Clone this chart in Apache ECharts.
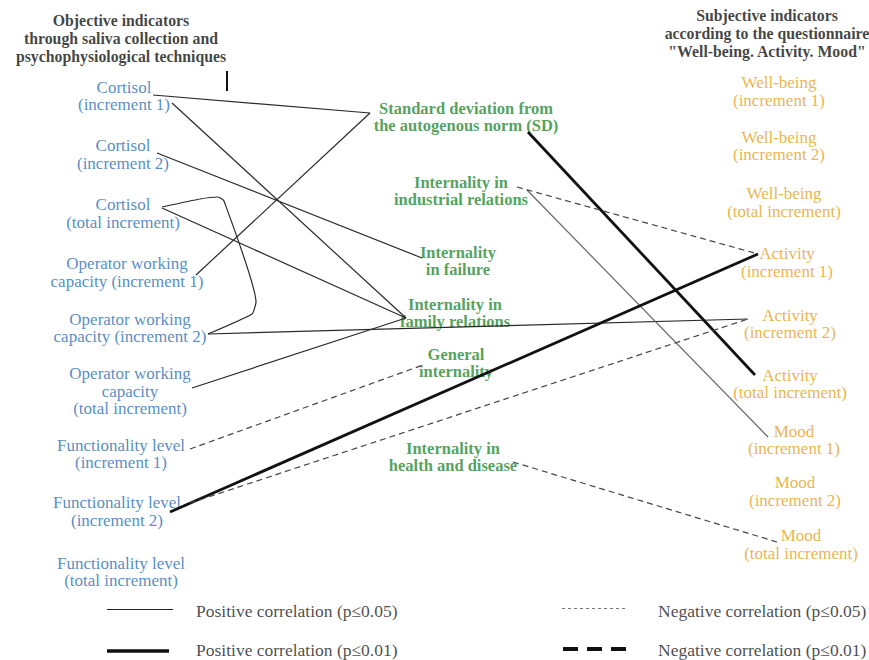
<!DOCTYPE html>
<html><head><meta charset="utf-8">
<script src="https://cdn.jsdelivr.net/npm/echarts@6/dist/echarts.min.js"></script>
<style>html,body{margin:0;padding:0;background:#fff}#c{width:869px;height:660px}</style>
</head><body><div id="c"></div>
<script>
// ---- Text of the diagram ----
const headerTexts = [
  'Objective indicators\nthrough saliva collection and\npsychophysiological techniques',
  'Subjective indicators\naccording to the questionnaire\n"Well-being. Activity. Mood"'
];
const headerPos = [[121, 38.5], [767, 33]];

const objectiveNames = [
  'Cortisol\n(increment 1)', 'Cortisol\n(increment 2)', 'Cortisol\n(total increment)',
  'Operator working\ncapacity (increment 1)', 'Operator working\ncapacity (increment 2)',
  'Operator working\ncapacity\n(total increment)',
  'Functionality level\n(increment 1)', 'Functionality level\n(increment 2)',
  'Functionality level\n(total increment)'
];
const objectivePos = [[124, 96], [123, 154.5], [123, 213.5], [127, 272.5], [130, 328],
  [130, 391], [121, 454], [117, 511.5], [121, 572]];

const personalNames = [
  'Standard deviation from\nthe autogenous norm (SD)', 'Internality in\nindustrial relations',
  'Internality\nin failure', 'Internality in\nfamily relations', 'General\ninternality',
  'Internality in\nhealth and disease'
];
const personalPos = [[466, 117], [461, 191], [458, 261], [455, 313], [456, 363], [453, 457]];

const subjectiveNames = [
  'Well-being\n(increment 1)', 'Well-being\n(increment 2)', 'Well-being\n(total increment)',
  'Activity\n(increment 1)', 'Activity\n(increment 2)', 'Activity\n(total increment)',
  'Mood\n(increment 1)', 'Mood\n(increment 2)', 'Mood\n(total increment)'
];
const subjectivePos = [[779, 91.5], [779, 146], [784, 202.5], [787, 262.5], [790, 324],
  [790, 384], [794, 440], [795, 491.5], [801, 544.5]];

// ---- Correlation links (source anchor -> target anchor) ----
const positive05 = [
  ['Cortisol (increment 1)', 'SD', [[153, 95], [370, 113]]],
  ['Cortisol (increment 1)', 'Internality in family relations', [[172, 103], [406, 318]]],
  ['Cortisol (increment 2)', 'Internality in failure', [[157, 153], [422, 258]]],
  ['Cortisol (total increment)', 'Internality in family relations', [[162, 208], [406, 318]]],
  ['SD', 'Operator working capacity (increment 1)', [[370, 113], [196, 275]]],
  ['Operator working capacity (increment 2)', 'Activity (increment 2)', [[208, 334], [748, 319]]],
  ['Operator working capacity (total increment)', 'Internality in family relations', [[192, 388], [406, 318]]]
];
const positive05Grey = [
  ['Internality in industrial relations', 'Mood (increment 1)', [[527, 190], [768, 437]]]
];
const positive01 = [
  ['Functionality level (increment 2)', 'Activity (increment 1)', [[170, 512], [758, 254]]],
  ['SD', 'Activity (total increment)', [[528, 132], [755, 375]]]
];
const negative05 = [
  ['Functionality level (increment 1)', 'General internality', [[190, 449], [423, 365]]],
  ['Functionality level (increment 2)', 'Activity (increment 2)', [[190, 503], [748, 319]]],
  ['Internality in industrial relations', 'Activity (increment 1)', [[517, 187], [758, 254]]],
  ['Internality in health and disease', 'Mood (total increment)', [[513, 462], [777, 542]]]
];
// curved link: Cortisol (total increment) -> Operator working capacity (increment 2)
const curvedLink = [[162, 207], [200, 199], [218, 197], [224, 201], [256, 302], [252, 314], [208, 334]];
const headerTick = [[227, 71], [227, 91]];

// ---- Legend ----
const legendTexts = ['Positive correlation (p≤0.05)', 'Positive correlation (p≤0.01)',
  'Negative correlation (p≤0.05)', 'Negative correlation (p≤0.01)'];
const legendTextPos = [[196, 611], [196, 650], [658, 611], [658, 650]];
const legendSamples = [[[107, 609], [173, 609]], [[107, 651], [169, 651]],
  [[562, 608], [625, 608]], [[563, 649], [628, 649]]];

// ---- Build ----
const BLUE = '#2a70b4', GREEN = '#268a33', ORANGE = '#e3a11c';
const SERIF = 'Liberation Serif';

function textSeries(names, pos, style) {
  return {
    type: 'scatter', symbolSize: 1, silent: true, z: 2,
    itemStyle: { color: 'rgba(0,0,0,0)' },
    labelLayout: { hideOverlap: false },
    data: names.map((n, i) => ({ name: n, value: pos[i] })),
    label: Object.assign({
      show: true, position: 'inside', formatter: p => p.name,
      align: 'center', verticalAlign: 'middle', fontFamily: SERIF
    }, style)
  };
}
function linkSeries(list, style) {
  return {
    type: 'lines', coordinateSystem: 'cartesian2d', silent: true, z: 3,
    data: list.map(l => ({ name: l[0] + ' - ' + l[1], coords: l[2] })),
    lineStyle: Object.assign({ opacity: 1, curveness: 0 }, style)
  };
}

const chart = echarts.init(document.getElementById('c'), null, { renderer: 'svg' });
chart.setOption({
  animation: false,
  backgroundColor: '#ffffff',
  grid: { left: 0, right: 0, top: 0, bottom: 0 },
  xAxis: { type: 'value', min: 0, max: 869, show: false },
  yAxis: { type: 'value', min: 0, max: 660, inverse: true, show: false },
  series: [
    textSeries(headerTexts, headerPos, { color: '#111', fontWeight: 'bold', fontSize: 15.8, lineHeight: 18 }),
    textSeries(objectiveNames, objectivePos, { color: BLUE, fontSize: 17, lineHeight: 17.5 }),
    textSeries(personalNames, personalPos, { color: GREEN, fontWeight: 'bold', fontSize: 16.5, lineHeight: 17.5 }),
    textSeries(subjectiveNames, subjectivePos, { color: ORANGE, fontSize: 17, lineHeight: 17.5 }),
    textSeries(legendTexts, legendTextPos, { color: '#1a1a1a', fontSize: 17.5, align: 'left' }),
    linkSeries(positive05, { color: '#2a2a2a', width: 1.2 }),
    linkSeries(positive05Grey, { color: '#666', width: 1.2 }),
    linkSeries(positive01, { color: '#111', width: 2.8 }),
    linkSeries(negative05, { color: '#444', width: 1.2, type: [6, 4] }),
    {
      type: 'line', data: curvedLink, smooth: 0.15, symbol: 'none', silent: true, z: 3,
      lineStyle: { color: '#2a2a2a', width: 1.2 }
    },
    linkSeries([['Header', 'marker', headerTick]], { color: '#111', width: 2 }),
    {
      type: 'lines', coordinateSystem: 'cartesian2d', silent: true, z: 3,
      data: [
        { coords: legendSamples[0], lineStyle: { color: '#222', width: 1.2 } },
        { coords: legendSamples[1], lineStyle: { color: '#111', width: 3.5 } },
        { coords: legendSamples[2], lineStyle: { color: '#777', width: 1.2, type: [3, 3] } },
        { coords: legendSamples[3], lineStyle: { color: '#111', width: 4, type: [15, 9] } }
      ],
      lineStyle: { opacity: 1 }
    }
  ]
});
</script></body></html>
